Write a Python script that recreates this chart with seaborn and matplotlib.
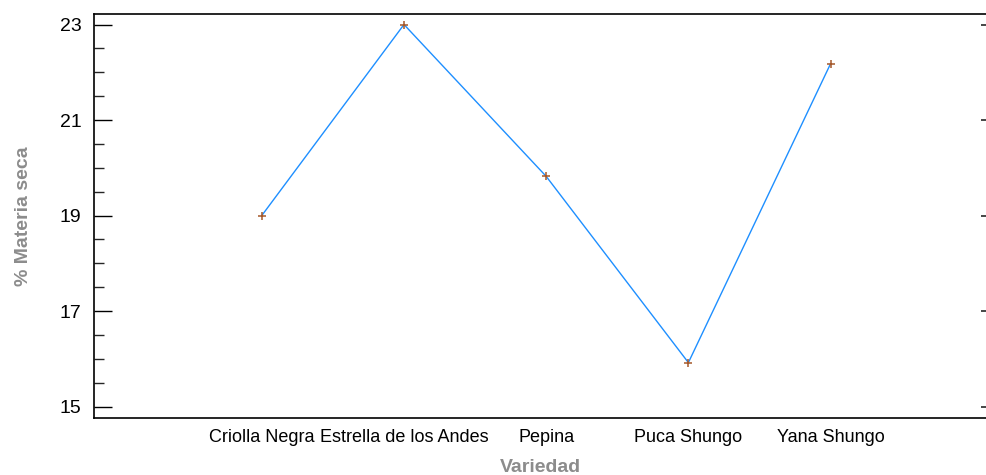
import matplotlib
matplotlib.use("Agg")
import matplotlib.pyplot as plt
import seaborn as sns
import pandas as pd
from matplotlib.ticker import MultipleLocator

categories = ["Criolla Negra", "Estrella de los Andes", "Pepina", "Puca Shungo", "Yana Shungo"]
values = [19.0, 23.0, 19.82, 15.92, 22.18]
yticks = [15, 17, 19, 21, 23]

sns.set_style("white")
plt.rcParams["font.family"] = ["Liberation Sans", "DejaVu Sans"]

df = pd.DataFrame({"Variedad": categories, "Materia": values})

W, H = 987, 475
fig = plt.figure(figsize=(W / 100, H / 100), dpi=100)
ax = fig.add_axes([94 / W, (H - 418) / H, (987 - 94) / W, (418 - 14) / H])

sns.lineplot(data=df, x="Variedad", y="Materia", sort=False, color="#1e8fff",
             linewidth=1.0, ax=ax)
sns.scatterplot(data=df, x="Variedad", y="Materia", marker="+", color="#a5582a",
                s=40, linewidth=1.1, ax=ax, zorder=3)

ax.set_xlim(-1.18, 5.1)
ax.set_ylim(14.76, 23.22)
ax.set_yticks(yticks)
ax.yaxis.set_minor_locator(MultipleLocator(0.5))
ax.tick_params(axis="y", which="major", direction="in", length=13, width=1.0,
               labelsize=14, colors="black", pad=9, left=True)
ax.tick_params(axis="y", which="minor", direction="in", length=7, width=1.0, left=True)
ax.tick_params(axis="x", which="both", length=0, labelsize=13, pad=8, colors="black")

for side in ["left", "top", "bottom"]:
    ax.spines[side].set_visible(True)
    ax.spines[side].set_color("black")
    ax.spines[side].set_linewidth(1.2)
ax.spines["right"].set_visible(False)

ax2 = ax.twinx()
ax2.set_ylim(ax.get_ylim())
ax2.set_yticks(yticks)
ax2.tick_params(axis="y", direction="in", length=4.5, width=1.2, labelright=False, right=True)
for s in ax2.spines.values():
    s.set_visible(False)

ax.set_xlabel("Variedad", fontsize=14, fontweight="bold", color="#8c8c8c", labelpad=9)
ax.set_ylabel("% Materia seca", fontsize=14, fontweight="bold", color="#8c8c8c", labelpad=20)

fig.savefig("out.png", dpi=100)
